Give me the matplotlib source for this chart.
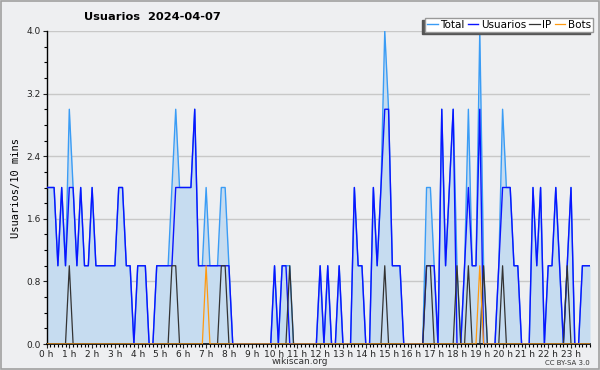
import numpy as np
import matplotlib
matplotlib.use("Agg")
import matplotlib.pyplot as plt
from matplotlib.patches import Rectangle
from matplotlib.ticker import MultipleLocator, FixedLocator

# one value per 10 minutes, 00:00 .. 23:50
usuarios = [2, 2, 2, 1, 2, 1, 2, 2, 1, 2, 1, 1, 2, 1, 1, 1, 1, 1, 1, 2,
            2, 1, 1, 0, 1, 1, 1, 0, 0, 1, 1, 1, 1, 1, 2, 2, 2, 2, 2, 3,
            1, 1, 1, 1, 1, 1, 1, 1, 1, 0, 0, 0, 0, 0, 0, 0, 0, 0, 0, 0,
            1, 0, 1, 1, 0, 0, 0, 0, 0, 0, 0, 0, 1, 0, 1, 0, 0, 1, 0, 0,
            0, 2, 1, 1, 0, 0, 2, 1, 2, 3, 3, 1, 1, 1, 0, 0, 0, 0, 0, 0,
            1, 1, 1, 0, 3, 1, 2, 3, 0, 0, 1, 2, 1, 1, 3, 0, 0, 0, 0, 1,
            2, 2, 2, 1, 1, 0, 0, 0, 2, 1, 2, 0, 1, 1, 2, 1, 0, 1, 2, 0,
            0, 1, 1, 1]
ip_slots = [6, 33, 34, 46, 47, 64, 89, 100, 101, 108, 111, 115, 120, 137]
bot_slots = [42, 114]
total_extra = {6: 3, 33: 2, 34: 3, 42: 2, 46: 2, 47: 2, 64: 1, 89: 4,
               100: 2, 101: 2, 108: 1, 111: 3, 114: 4, 115: 1, 120: 3, 137: 1}

n = len(usuarios)
hours = np.arange(n) / 6.0
ip = np.zeros(n)
ip[ip_slots] = 1
bots = np.zeros(n)
bots[bot_slots] = 1
total = np.array(usuarios, dtype=float)
for k, v in total_extra.items():
    total[k] = v

bg = "#eeeff1"
fig = plt.figure(figsize=(6, 3.7), dpi=100, facecolor=bg)
ax = fig.add_axes([46.5 / 600, 26 / 370, (590 - 46.5) / 600, (344 - 31) / 370])
ax.set_facecolor(bg)

ax.fill_between(hours, 0, total, color="#c6dcf0", lw=0, zorder=1)
ax.plot(hours, total, color="#3a9cf5", lw=1.0, label="Total", zorder=3)
ax.plot(hours, usuarios, color="#0a14ff", lw=1.0, label="Usuarios", zorder=4)
ax.plot(hours, ip, color="#333333", lw=0.9, label="IP", zorder=5)
ax.plot(hours, bots, color="#ff9a10", lw=0.9, label="Bots", zorder=5)

ax.set_xlim(0, hours[-1])
ax.set_ylim(0, 4)

# axes styling
for side in ["top", "right"]:
    ax.spines[side].set_visible(False)
ax.spines["left"].set_linewidth(1.0)
ax.spines["bottom"].set_linewidth(1.2)
ax.yaxis.set_major_locator(MultipleLocator(0.8))
ax.yaxis.set_minor_locator(MultipleLocator(0.2))
ax.yaxis.set_major_formatter(matplotlib.ticker.FormatStrFormatter("%.1f"))
ax.set_xticks(np.arange(24))
ax.set_xticklabels(["%d h" % h for h in range(24)])
ax.xaxis.set_minor_locator(FixedLocator(hours))
ax.tick_params(axis="both", which="major", labelsize=6.5, length=3, width=0.8,
               colors="#222222", pad=1)
ax.tick_params(axis="both", which="minor", length=2.5, width=0.8)
ax.grid(axis="y", color="#c8c8c8", lw=1.0, zorder=0)
ax.set_axisbelow(True)

ax.set_ylabel("Usuarios/10 mins", fontsize=7.5, family="DejaVu Sans Mono", labelpad=4)
fig.text(84 / 600, 1 - 17 / 370, "Usuarios  2024-04-07", fontsize=8.2,
         fontweight="bold", va="center", ha="left")

leg = ax.legend(loc="upper right", bbox_to_anchor=(593 / 600, 1 - 17.5 / 370),
                bbox_transform=fig.transFigure, ncol=4, fontsize=7.5,
                frameon=True, fancybox=False, handlelength=1.0, handletextpad=0.25,
                columnspacing=0.3, borderpad=0.2, borderaxespad=0,
                shadow={"ox": -2.2, "oy": -2.0, "color": "#555555", "alpha": 1})
leg.get_frame().set_edgecolor("#999999")
leg.get_frame().set_linewidth(1.0)
leg.set_zorder(10)

fig.text(0.5, 1 - 362 / 370, "wikiscan.org", fontsize=6.5, ha="center",
         va="center", color="#333333")
fig.text(590 / 600, 1 - 363 / 370, "CC BY-SA 3.0", fontsize=5, ha="right",
         va="center", color="#333333")

fig.patches.append(Rectangle((0.001, 0.002), 0.997, 0.995, transform=fig.transFigure,
                             fill=False, edgecolor="#a0a0a0", lw=1.2))

fig.savefig("out.png", dpi=100, facecolor=bg)
